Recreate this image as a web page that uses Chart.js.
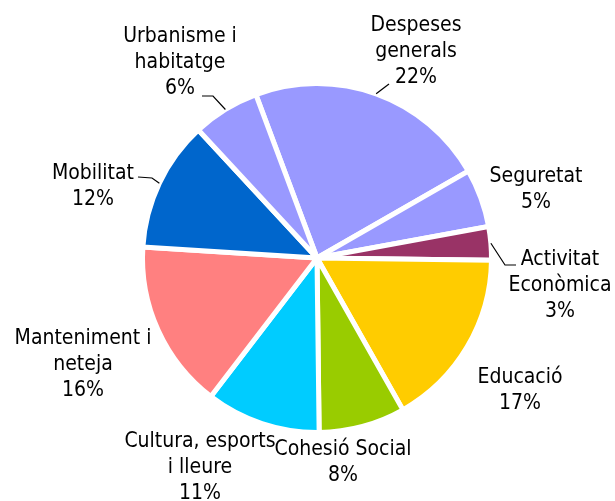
<!DOCTYPE html>
<html>
<head>
<meta charset="utf-8">
<title>Pressupost per àmbits</title>
<script src="https://cdn.jsdelivr.net/npm/chart.js@4/dist/chart.umd.min.js"></script>
<style>
  html, body { margin: 0; padding: 0; background: #fff; }
  #wrap { width: 615px; height: 501px; }
</style>
</head>
<body>
<div id="wrap"><canvas id="pie" width="615" height="501"></canvas></div>
<script>
// --- data ---
const categories = [
  ["Despeses", "generals"],
  ["Seguretat"],
  ["Activitat", "Econòmica"],
  ["Educació"],
  ["Cohesió Social"],
  ["Cultura, esports", "i lleure"],
  ["Manteniment i", "neteja"],
  ["Mobilitat"],
  ["Urbanisme i", "habitatge"]
];
const shares = [22.4, 5.4, 3.1, 16.6, 8.0, 10.6, 15.6, 12.1, 6.2];
const sliceColors = [
  "#9999FF", "#9999FF", "#993366", "#FFCC00", "#99CC00",
  "#00CCFF", "#FF8080", "#0066CC", "#9999FF"
];

// --- label placement (text centre x, first baseline y, optional leader bend points) ---
const labelLayout = [
  { x: 416, y: 31, leader: [[389, 84]] },
  { x: 536, y: 182 },
  { x: 560, y: 265, leader: [[505, 265], [516, 265]] },
  { x: 520, y: 383 },
  { x: 343, y: 455 },
  { x: 200, y: 447 },
  { x: 83, y: 344 },
  { x: 93, y: 179, leader: [[152, 178], [138, 177]] },
  { x: 180, y: 42, leader: [[213, 96], [202, 96]] }
];
const LINE_H = 26;
const FONT = "21px 'DejaVu Sans Condensed', sans-serif";

const total = shares.reduce((a, b) => a + b, 0);

const pieLabels = {
  id: "pieLabels",
  afterDatasetsDraw(chart) {
    const ctx = chart.ctx;
    const arcs = chart.getDatasetMeta(0).data;
    ctx.save();
    ctx.font = FONT;
    ctx.fillStyle = "#000";
    ctx.strokeStyle = "#000";
    ctx.lineWidth = 1.2;
    ctx.textAlign = "center";
    ctx.textBaseline = "alphabetic";
    arcs.forEach((arc, i) => {
      const p = arc.getProps(["x", "y", "startAngle", "endAngle", "outerRadius"], true);
      const lay = labelLayout[i];
      if (lay.leader) {
        const mid = (p.startAngle + p.endAngle) / 2;
        const r = p.outerRadius;
        ctx.beginPath();
        ctx.moveTo(p.x + r * Math.cos(mid), p.y + r * Math.sin(mid));
        lay.leader.forEach(pt => ctx.lineTo(pt[0], pt[1]));
        ctx.stroke();
      }
      const lines = categories[i].concat([Math.round(shares[i] / total * 100) + "%"]);
      lines.forEach((t, k) => ctx.fillText(t, lay.x, lay.y + k * LINE_H));
    });
    ctx.restore();
  }
};

new Chart(document.getElementById("pie").getContext("2d"), {
  type: "pie",
  data: {
    labels: categories,
    datasets: [{
      data: shares,
      backgroundColor: sliceColors,
      borderColor: "#FFFFFF",
      borderWidth: 5
    }]
  },
  options: {
    responsive: false,
    animation: false,
    rotation: -20.5,
    layout: { padding: { left: 140, top: 81, right: 121, bottom: 66 } },
    plugins: {
      legend: { display: false },
      tooltip: { enabled: false }
    }
  },
  plugins: [pieLabels]
});
</script>
</body>
</html>
